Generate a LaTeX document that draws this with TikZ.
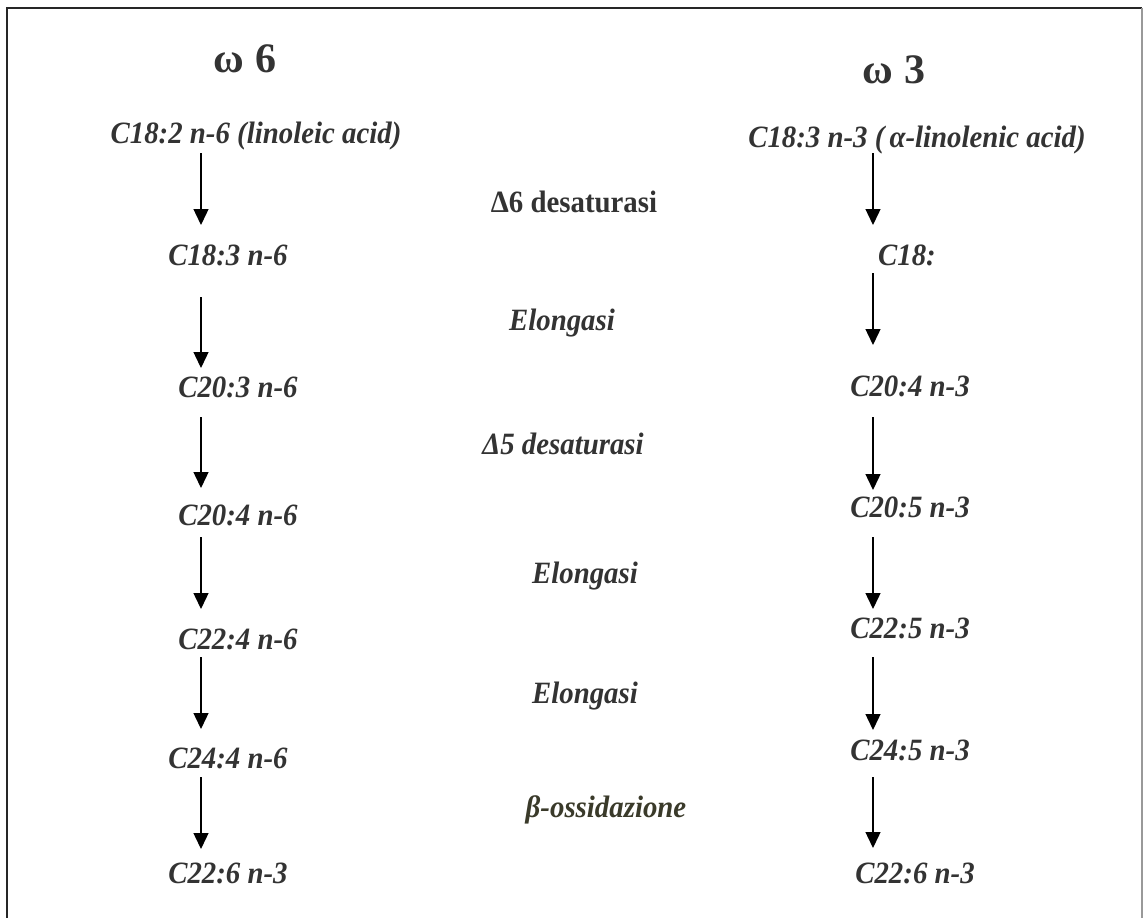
\documentclass[tikz,border=0pt]{standalone}
\usepackage{fontspec}
\setmainfont{Liberation Serif}
\newfontfamily\lblfont[FakeStretch=0.93]{Liberation Serif}
\usetikzlibrary{arrows.meta,calc}
\definecolor{txt}{RGB}{51,51,51}
\definecolor{olivetxt}{RGB}{58,58,42}
\begin{document}
\begin{tikzpicture}[x=1pt,y=-1pt,
  lbl/.style={anchor=base,inner sep=0pt,text=txt,font=\lblfont\bfseries\itshape\fontsize{31}{34}\selectfont},
  lblup/.style={anchor=base,inner sep=0pt,text=txt,font=\lblfont\bfseries\fontsize{31}{34}\selectfont},
  head/.style={anchor=base,inner sep=0pt,text=txt,font=\bfseries\fontsize{42}{46}\selectfont},
  arr/.style={line width=1.4pt,-{Triangle[width=15pt,length=16pt]}}]
\useasboundingbox (0,0) rectangle (1143,918);
% frame (open at the bottom)
\draw[line width=2pt,black!85] (7,940) -- (7,8) -- (1142,8);
\draw[line width=1.5pt,black!40] (1142,8) -- (1142,940);
% column x positions for the arrows
\coordinate (Lx) at (201,0);
\coordinate (Rx) at (873,0);
% headings
\node[head] (h6) at (245,72) {ω 6};
\node[head] (h3) at (894,83) {ω 3};
% omega-6 column
\node[lbl] (L1) at (256,143) {C18:2 n-6 (linoleic acid)};
\node[lbl] (L2) at (228,265) {C18:3 n-6};
\node[lbl] (L3) at (238,397) {C20:3 n-6};
\node[lbl] (L4) at (238,525) {C20:4 n-6};
\node[lbl] (L5) at (238,649) {C22:4 n-6};
\node[lbl] (L6) at (228,768) {C24:4 n-6};
\node[lbl] (L7) at (228,883) {C22:6 n-3};
% omega-3 column
\node[lbl] (R1) at (917,147) {C18:3 n-3 (\,α-linolenic acid)};
\node[lbl] (R2) at (907,265) {C18:};
\node[lbl] (R3) at (910,396) {C20:4 n-3};
\node[lbl] (R4) at (910,517) {C20:5 n-3};
\node[lbl] (R5) at (910,638) {C22:5 n-3};
\node[lbl] (R6) at (910,760) {C24:5 n-3};
\node[lbl] (R7) at (915,883) {C22:6 n-3};
% enzymes
\node[lblup] (E1) at (574,212) {Δ6 desaturasi};
\node[lbl] (E2) at (562,330) {Elongasi};
\node[lbl] (E3) at (563,454) {Δ5 desaturasi};
\node[lbl] (E4) at (585,583) {Elongasi};
\node[lbl] (E5) at (585,703) {Elongasi};
\node[lbl,text=olivetxt] (E6) at (606,817) {β-ossidazione};
% left arrows
\draw[arr] ($(Lx|-L1.base)+(0,10)$) -- ($(Lx|-L2.base)+(0,-40)$);
\draw[arr] ($(Lx|-L2.base)+(0,32)$) -- ($(Lx|-L3.base)+(0,-29)$);
\draw[arr] ($(Lx|-L3.base)+(0,20)$) -- ($(Lx|-L4.base)+(0,-37)$);
\draw[arr] ($(Lx|-L4.base)+(0,12)$) -- ($(Lx|-L5.base)+(0,-40)$);
\draw[arr] ($(Lx|-L5.base)+(0,8)$) -- ($(Lx|-L6.base)+(0,-39)$);
\draw[arr] ($(Lx|-L6.base)+(0,9)$) -- ($(Lx|-L7.base)+(0,-34)$);
% right arrows
\draw[arr] ($(Rx|-R1.base)+(0,6)$) -- ($(Rx|-R2.base)+(0,-40)$);
\draw[arr] ($(Rx|-R2.base)+(0,8)$) -- ($(Rx|-R3.base)+(0,-51)$);
\draw[arr] ($(Rx|-R3.base)+(0,21)$) -- ($(Rx|-R4.base)+(0,-27)$);
\draw[arr] ($(Rx|-R4.base)+(0,20)$) -- ($(Rx|-R5.base)+(0,-29)$);
\draw[arr] ($(Rx|-R5.base)+(0,19)$) -- ($(Rx|-R6.base)+(0,-30)$);
\draw[arr] ($(Rx|-R6.base)+(0,17)$) -- ($(Rx|-R7.base)+(0,-35)$);
\end{tikzpicture}
\end{document}
